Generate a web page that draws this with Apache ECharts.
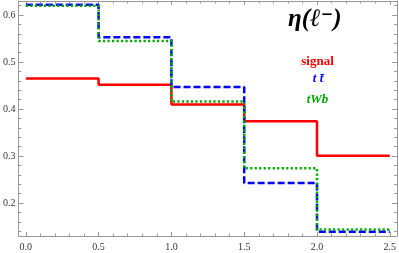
<!DOCTYPE html>
<html><head><meta charset="utf-8">
<script src="https://cdn.jsdelivr.net/npm/echarts@6/dist/echarts.min.js"></script>
<style>html,body{margin:0;padding:0;background:#fff}#c{width:399px;height:253px}</style>
</head><body><div id="c"></div>
<script>
const binEdges = [0, 0.5, 1.0, 1.5, 2.0, 2.5];
const signal = [0.465, 0.452, 0.410, 0.374, 0.301];
const ttbar  = [0.622, 0.553, 0.447, 0.243, 0.139];
const tWb    = [0.620, 0.545, 0.416, 0.274, 0.144];
const xMajor = [0, 0.5, 1.0, 1.5, 2.0, 2.5];
const xMinor = [0.1,0.2,0.3,0.4,0.6,0.7,0.8,0.9,1.1,1.2,1.3,1.4,1.6,1.7,1.8,1.9,2.1,2.2,2.3,2.4];
const yMajor = [0.2, 0.3, 0.4, 0.5, 0.6];
const yMinor = [0.14,0.16,0.18,0.22,0.24,0.26,0.28,0.32,0.34,0.36,0.38,0.42,0.44,0.46,0.48,0.52,0.54,0.56,0.58,0.62];

function steps(vals){
  const d = vals.map((v,i)=>[binEdges[i], v]);
  d.push([binEdges[binEdges.length-1], vals[vals.length-1]]);
  return d;
}
const axCol = '#999999';
const X = {min:-0.05, max:2.55, type:'value', splitLine:{show:false}};
const Y = {min:0.13, max:0.63, type:'value', splitLine:{show:false}};
function ax(base, pos, vals, len, line, labels){
  return Object.assign({}, base, {
    position: pos,
    axisLine:{show:line, onZero:false, lineStyle:{color:axCol, width:1}},
    axisTick:{show:true, inside:true, length:len, customValues:vals, lineStyle:{color:axCol, width:1}},
    axisLabel: labels ? {show:true, customValues:vals, color:'#333', fontFamily:'Liberation Serif', fontSize:10,
        margin: (pos==='bottom'?6:3), formatter:v=>v.toFixed(1)} : {show:false}
  });
}
const chart = echarts.init(document.getElementById('c'), null, {renderer:'canvas'});
chart.setOption({
  animation:false,
  grid:{left:15.5, right:1.5, top:1, bottom:17, containLabel:false},
  xAxis:[
    ax(X,'bottom',xMajor,4,true,true),
    ax(X,'bottom',xMinor,2.5,false,false),
    ax(X,'top',xMajor,4,true,false),
    ax(X,'top',xMinor,2.5,false,false)
  ],
  yAxis:[
    ax(Y,'left',yMajor,5,true,true),
    ax(Y,'left',yMinor,3,false,false),
    ax(Y,'right',yMajor,5,true,false),
    ax(Y,'right',yMinor,3,false,false)
  ],
  series:[
    {type:'line', step:'end', data:steps(signal), symbol:'none', lineStyle:{color:'#ff0000', width:2.5}},
    {type:'line', step:'end', data:steps(ttbar), symbol:'none', lineStyle:{color:'#0000ff', width:2.5, type:[7,3]}},
    {type:'line', step:'end', data:steps(tWb), symbol:'none', lineStyle:{color:'#00aa00', width:2.5, type:[2.2,2.3]}}
  ],
  graphic:[
    {type:'text', left:288, top:7, style:{
      text:'{a|η(ℓ}{s|−}{a|)}',
      rich:{
        a:{font:'bold italic 25px "Liberation Serif"', fill:'#000', lineHeight:26, verticalAlign:'bottom'},
        s:{font:'bold 15px "DejaVu Serif"', fill:'#000', verticalAlign:'top', padding:[2,0,0,0]}
      }}},
    {type:'text', x:317.5, y:62, style:{text:'signal', font:'bold 13px "Liberation Serif"', fill:'#ff0000', align:'center', verticalAlign:'middle'}},
    {type:'text', x:318, y:79, style:{text:'t t\u0304', font:'bold italic 13px "Liberation Serif"', fill:'#0000ff', align:'center', verticalAlign:'middle'}},
    {type:'text', x:317.5, y:100, style:{text:'tWb', font:'bold italic 13px "Liberation Serif"', fill:'#00aa00', align:'center', verticalAlign:'middle'}}
  ]
});
</script></body></html>
